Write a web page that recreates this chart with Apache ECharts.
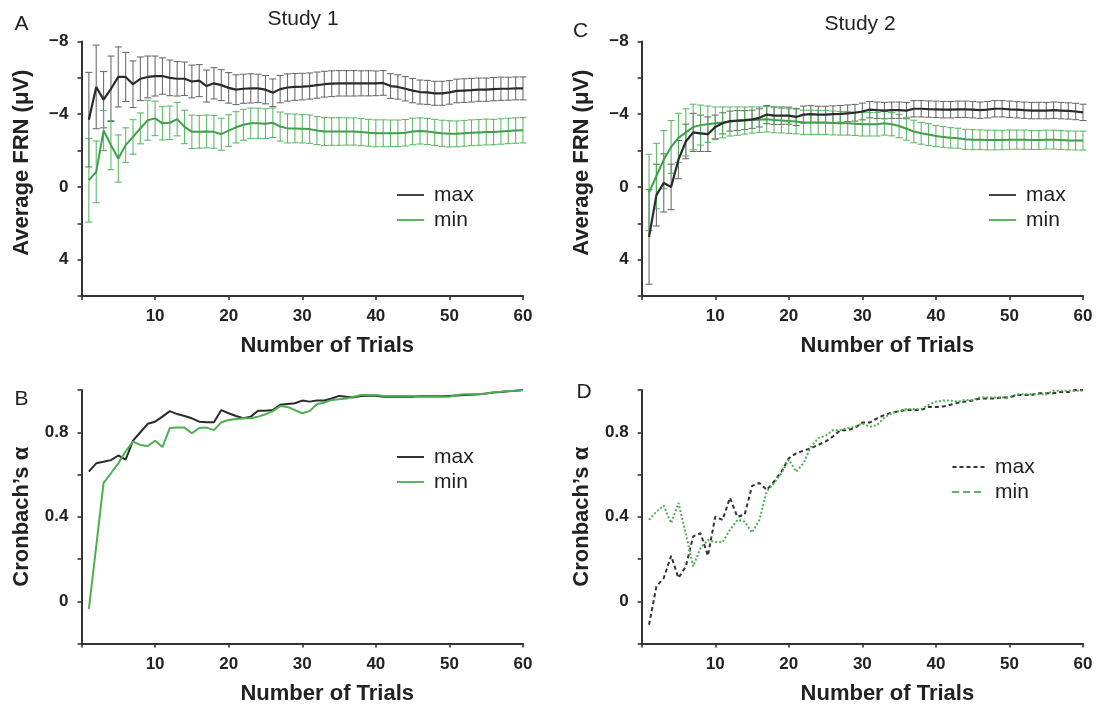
<!DOCTYPE html>
<html>
<head>
<meta charset="utf-8">
<script src="https://cdn.jsdelivr.net/npm/echarts@6/dist/echarts.min.js"></script>
<style>
html,body{margin:0;padding:0;background:#fff;}
#chart{width:1100px;height:706px;}
</style>
</head>
<body>
<div id="chart"></div>
<script>
// ---------- data ----------
const trials = [1,2,3,4,5,6,7,8,9,10,11,12,13,14,15,16,17,18,19,20,21,22,23,24,25,26,27,28,29,30,
  31,32,33,34,35,36,37,38,39,40,41,42,43,44,45,46,47,48,49,50,51,52,53,54,55,56,57,58,59,60];

// Study 1 - average FRN (µV)
const frnMax1 = [-3.7,-5.5,-4.8,-5.4,-6.05,-6.05,-5.65,-5.95,-6.05,-6.1,
  -6.1,-6.0,-5.95,-5.95,-5.8,-5.85,-5.55,-5.7,-5.6,-5.45,
  -5.35,-5.4,-5.42,-5.42,-5.35,-5.18,-5.38,-5.47,-5.5,-5.52,
  -5.55,-5.6,-5.65,-5.68,-5.7,-5.7,-5.7,-5.7,-5.7,-5.7,
  -5.72,-5.55,-5.5,-5.4,-5.3,-5.22,-5.2,-5.15,-5.15,-5.2,
  -5.28,-5.3,-5.32,-5.35,-5.35,-5.38,-5.4,-5.4,-5.42,-5.42];
const frnMaxErr1 = [2.6,2.3,1.55,1.8,1.65,1.35,1.28,1.2,1.15,1.1,
  1.0,0.98,0.95,0.92,0.9,0.88,0.88,0.86,0.85,0.84,
  0.82,0.8,0.8,0.78,0.78,0.76,0.75,0.75,0.74,0.73,
  0.72,0.72,0.71,0.71,0.7,0.7,0.7,0.69,0.69,0.68,
  0.68,0.68,0.67,0.67,0.67,0.66,0.66,0.66,0.66,0.65,
  0.65,0.65,0.65,0.64,0.64,0.64,0.64,0.63,0.63,0.63];
const frnMin1 = [-0.37,-0.83,-3.1,-2.3,-1.56,-2.3,-2.75,-3.22,-3.67,-3.77,
  -3.5,-3.53,-3.73,-3.3,-3.03,-3.03,-3.05,-3.03,-2.9,-3.1,
  -3.28,-3.42,-3.5,-3.5,-3.48,-3.53,-3.32,-3.22,-3.22,-3.2,
  -3.18,-3.1,-3.05,-3.05,-3.05,-3.05,-3.05,-3.02,-2.98,-2.95,
  -2.95,-2.95,-2.95,-2.98,-3.05,-3.08,-3.05,-3.0,-2.95,-2.92,
  -2.92,-2.95,-2.98,-3.0,-3.02,-3.02,-3.05,-3.08,-3.1,-3.12];
const frnMinErr1 = [2.3,1.7,1.1,1.35,1.3,0.95,0.95,0.85,1.1,0.95,
  0.92,0.92,0.92,0.92,0.92,0.9,0.9,0.9,0.88,0.87,
  0.86,0.85,0.84,0.83,0.82,0.81,0.8,0.8,0.79,0.78,
  0.78,0.77,0.77,0.76,0.76,0.75,0.75,0.75,0.74,0.74,
  0.74,0.73,0.73,0.73,0.73,0.72,0.72,0.72,0.72,0.72,
  0.71,0.71,0.71,0.71,0.71,0.7,0.7,0.7,0.7,0.7];

// Study 2 - average FRN (µV)
const frnMax2 = [2.75,0.45,-0.22,0.0,-1.5,-2.5,-3.0,-2.95,-2.9,-3.3,
  -3.5,-3.62,-3.65,-3.68,-3.72,-3.8,-3.98,-3.92,-3.92,-3.92,
  -3.85,-3.98,-4.0,-3.98,-3.98,-4.0,-4.02,-4.05,-4.08,-4.15,
  -4.25,-4.22,-4.2,-4.22,-4.22,-4.2,-4.3,-4.3,-4.28,-4.27,
  -4.25,-4.25,-4.27,-4.27,-4.25,-4.22,-4.25,-4.3,-4.3,-4.27,
  -4.25,-4.22,-4.2,-4.2,-4.2,-4.22,-4.2,-4.18,-4.15,-4.1];
const frnMaxErr2 = [2.6,1.7,1.6,1.25,1.05,0.95,1.05,1.0,0.95,0.65,
  0.58,0.55,0.55,0.52,0.5,0.5,0.5,0.48,0.48,0.47,
  0.47,0.47,0.47,0.46,0.46,0.46,0.46,0.46,0.46,0.46,
  0.45,0.45,0.45,0.45,0.45,0.45,0.45,0.45,0.45,0.45,
  0.45,0.45,0.45,0.45,0.45,0.45,0.45,0.45,0.45,0.45,
  0.45,0.45,0.45,0.45,0.45,0.45,0.45,0.45,0.45,0.45];
const frnMin2 = [0.3,-0.6,-1.5,-2.2,-2.7,-3.0,-3.3,-3.4,-3.45,-3.5,
  -3.55,-3.6,-3.62,-3.65,-3.68,-3.7,-3.72,-3.68,-3.65,-3.62,
  -3.6,-3.55,-3.55,-3.55,-3.55,-3.52,-3.5,-3.5,-3.48,-3.45,
  -3.45,-3.45,-3.5,-3.45,-3.35,-3.2,-3.05,-2.95,-2.88,-2.8,
  -2.75,-2.7,-2.68,-2.62,-2.6,-2.6,-2.58,-2.58,-2.58,-2.6,
  -2.6,-2.6,-2.58,-2.58,-2.6,-2.6,-2.58,-2.56,-2.55,-2.55];
const frnMinErr2 = [2.1,1.8,1.6,1.45,1.35,1.3,1.25,1.1,1.0,0.9,
  0.85,0.8,0.78,0.75,0.72,0.7,0.7,0.7,0.68,0.68,
  0.68,0.67,0.67,0.66,0.66,0.66,0.65,0.65,0.65,0.65,
  0.65,0.65,0.65,0.64,0.64,0.63,0.62,0.6,0.6,0.58,
  0.57,0.56,0.55,0.55,0.55,0.54,0.54,0.54,0.53,0.53,
  0.53,0.53,0.52,0.52,0.52,0.52,0.52,0.52,0.52,0.52];

// Study 1 - Cronbach's alpha
const alphaMax1 = [0.614,0.653,0.66,0.668,0.69,0.67,0.76,0.8,0.84,0.85,
  0.874,0.9,0.886,0.877,0.866,0.85,0.847,0.847,0.905,0.89,
  0.877,0.866,0.874,0.902,0.902,0.905,0.93,0.934,0.937,0.95,
  0.945,0.95,0.95,0.96,0.972,0.968,0.965,0.972,0.973,0.973,
  0.968,0.968,0.968,0.968,0.968,0.97,0.97,0.97,0.97,0.972,
  0.974,0.976,0.978,0.98,0.984,0.988,0.99,0.994,0.997,1.0];
const alphaMin1 = [-0.037,0.26,0.56,0.606,0.653,0.71,0.756,0.74,0.735,0.76,
  0.73,0.82,0.822,0.822,0.795,0.82,0.822,0.81,0.847,0.858,
  0.863,0.866,0.866,0.874,0.885,0.9,0.924,0.92,0.905,0.89,
  0.9,0.934,0.94,0.953,0.956,0.96,0.968,0.976,0.976,0.976,
  0.972,0.972,0.972,0.972,0.972,0.968,0.968,0.968,0.968,0.968,
  0.976,0.98,0.98,0.98,0.982,0.99,0.992,0.995,0.997,1.0];

// Study 2 - Cronbach's alpha
const alphaMax2 = [-0.111,0.07,0.11,0.215,0.11,0.165,0.307,0.322,0.215,0.4,
  0.385,0.49,0.4,0.41,0.546,0.56,0.527,0.567,0.614,0.677,
  0.7,0.713,0.724,0.74,0.756,0.78,0.81,0.81,0.82,0.846,
  0.846,0.866,0.882,0.893,0.9,0.905,0.905,0.905,0.92,0.92,
  0.922,0.93,0.94,0.945,0.95,0.96,0.96,0.96,0.965,0.965,
  0.976,0.976,0.976,0.985,0.985,0.985,0.99,0.99,1.0,1.0];
const alphaMin2 = [0.385,0.425,0.452,0.37,0.465,0.32,0.165,0.252,0.29,0.28,
  0.28,0.338,0.385,0.377,0.325,0.385,0.52,0.56,0.606,0.67,
  0.614,0.653,0.732,0.772,0.783,0.81,0.81,0.82,0.826,0.842,
  0.826,0.834,0.87,0.89,0.9,0.91,0.91,0.91,0.93,0.945,
  0.95,0.95,0.945,0.953,0.953,0.965,0.965,0.965,0.965,0.965,
  0.98,0.98,0.98,0.98,0.98,0.997,0.997,0.997,0.997,0.997];

const frnTickLabels = {'-8':'\u22128','-4':'\u22124','0':'0','4':'4'};
const alphaTickLabels = ['0','0.4','0.8'];

// ---------- styling ----------
const FONT = '"Liberation Sans", Arial, sans-serif';
const C_BLACK = '#2b2b2b', C_BLACK_ERR = '#5e5e5e';
const C_GREEN = '#3f9f4a', C_GREEN_ERR = '#4fb35b', C_GREEN_LEG = '#5cb85f';

const ICON_SOLID = 'path://M0,0h27v2h-27z';
const ICON_DASH_SHORT = 'path://M0,0h4v2h-4z M7,0h4v2h-4z M14,0h4v2h-4z M21,0h4v2h-4z M28,0h4v2h-4z';
const ICON_DASH_LONG = 'path://M0,0h7v2h-7z M11,0h7v2h-7z M22,0h7v2h-7z M33,0h0.01v2h-0.01z';

const pair = (ys) => trials.map((t, i) => [t, ys[i]]);
const errData = (ys, es) => trials.map((t, i) => [t, ys[i] - es[i], ys[i] + es[i]]);

function errRender(color, capW) {
  return function (params, api) {
    const x = api.value(0);
    const lo = api.coord([x, api.value(1)]);
    const hi = api.coord([x, api.value(2)]);
    const st = { stroke: color, lineWidth: 1.1, opacity: 0.9 };
    return { type: 'group', children: [
      { type: 'line', shape: { x1: lo[0], y1: lo[1], x2: hi[0], y2: hi[1] }, style: st },
      { type: 'line', shape: { x1: lo[0] - capW, y1: lo[1], x2: lo[0] + capW, y2: lo[1] }, style: st },
      { type: 'line', shape: { x1: hi[0] - capW, y1: hi[1], x2: hi[0] + capW, y2: hi[1] }, style: st }
    ]};
  };
}

const grids = [
  { left: 81.5, top: 41.5, width: 441.5, height: 254.5 },  // A
  { left: 81.5, top: 390, width: 441.5, height: 253.5 },   // B
  { left: 641.7, top: 41.5, width: 441.3, height: 254.5 }, // C
  { left: 641.7, top: 390, width: 441.3, height: 253.5 }   // D
];

const axisLineStyle = { show: true, onZero: false, lineStyle: { color: '#333', width: 2 } };
const tickStyle = { show: true, length: 4, lineStyle: { color: '#333', width: 1.6 } };
const labelFont = { fontFamily: FONT, fontSize: 17, fontWeight: 'bold', color: '#222' };
const nameFont = { fontFamily: FONT, fontSize: 22, fontWeight: 'bold', color: '#222' };

function xAxisFor(gi) {
  return {
    type: 'value', gridIndex: gi, min: 0, max: 60, interval: 10,
    axisLine: axisLineStyle, axisTick: tickStyle, splitLine: { show: false },
    axisLabel: Object.assign({ margin: 12, formatter: v => (v === 0 ? '' : String(v)) }, labelFont),
    name: 'Number of Trials', nameLocation: 'middle', nameGap: 39,
    nameTextStyle: Object.assign({ padding: [0, 0, 0, 50] }, nameFont)
  };
}
function frnAxis(gi) {
  return {
    type: 'value', gridIndex: gi, min: -8, max: 6, interval: 2, inverse: true,
    axisLine: axisLineStyle, axisTick: tickStyle, splitLine: { show: false },
    axisLabel: Object.assign({ margin: 13, formatter: v => frnTickLabels[String(v)] || '' }, labelFont),
    name: 'Average FRN (\u03bcV)', nameLocation: 'middle', nameGap: 49, nameRotate: 90,
    nameTextStyle: Object.assign({ padding: [0, 0, 0, 12] }, nameFont)
  };
}
function alphaAxis(gi) {
  return {
    type: 'value', gridIndex: gi, min: -0.2, max: 1.0, interval: 0.2,
    axisLine: axisLineStyle, axisTick: tickStyle, splitLine: { show: false },
    axisLabel: Object.assign({ margin: 13, formatter: v => {
      const r = (Math.round(v * 10) / 10).toString();
      return alphaTickLabels.indexOf(r) >= 0 ? r : '';
    } }, labelFont),
    name: 'Cronbach\u2019s \u03b1', nameLocation: 'middle', nameGap: 49, nameRotate: 90,
    nameTextStyle: nameFont
  };
}

function lineSeries(name, gi, ys, color, width, type) {
  return {
    type: 'line', name: name, xAxisIndex: gi, yAxisIndex: gi, data: pair(ys),
    symbol: 'none', showSymbol: false, z: 5,
    lineStyle: { color: color, width: width, type: type || 'solid' },
    itemStyle: { color: color }
  };
}
function errSeries(name, gi, ys, es, color) {
  return {
    type: 'custom', name: name, xAxisIndex: gi, yAxisIndex: gi,
    data: errData(ys, es), encode: { x: 0, y: [1, 2] },
    renderItem: errRender(color, 3.5), z: 2, silent: true
  };
}

function legendFor(items, left, top, width) {
  return {
    data: items.map(it => ({ name: it[0], icon: it[2], itemStyle: { color: it[1], borderWidth: 0 } })),
    orient: 'vertical', left: left, top: top, selectedMode: false,
    itemWidth: width || 27, itemHeight: 2, itemGap: 3, padding: 0,
    formatter: n => n.split('-')[1],
    textStyle: { fontFamily: FONT, fontSize: 21, color: '#222', lineHeight: 22, padding: [0, 0, 0, 5] }
  };
}

const textG = (txt, x, y, size, weight) => ({
  type: 'text', x: x, y: y,
  style: { text: txt, fontFamily: FONT, fontSize: size, fontWeight: weight || 'normal',
    fill: '#222', textAlign: 'center', textVerticalAlign: 'middle' }
});

const option = {
  animation: false,
  backgroundColor: '#fff',
  grid: grids,
  xAxis: [xAxisFor(0), xAxisFor(1), xAxisFor(2), xAxisFor(3)],
  yAxis: [frnAxis(0), alphaAxis(1), frnAxis(2), alphaAxis(3)],
  legend: [
    legendFor([['A-max', '#444', ICON_SOLID], ['A-min', C_GREEN_LEG, ICON_SOLID]], 397, 184),
    legendFor([['B-max', '#333', ICON_SOLID], ['B-min', C_GREEN_LEG, ICON_SOLID]], 397, 446),
    legendFor([['C-max', '#444', ICON_SOLID], ['C-min', C_GREEN_LEG, ICON_SOLID]], 989, 184),
    legendFor([['D-max', '#333', ICON_DASH_SHORT], ['D-min', C_GREEN_LEG, ICON_DASH_LONG]], 952, 456, 33)
  ],
  graphic: [
    textG('A', 21.5, 24, 21), textG('B', 21.5, 399, 21),
    textG('C', 580.5, 31, 21), textG('D', 584, 392.5, 21),
    textG('Study 1', 303, 19, 21), textG('Study 2', 860, 24, 21)
  ],
  series: [
    errSeries('errA-max', 0, frnMax1, frnMaxErr1, C_BLACK_ERR),
    errSeries('errA-min', 0, frnMin1, frnMinErr1, C_GREEN_ERR),
    lineSeries('A-min', 0, frnMin1, C_GREEN, 2),
    lineSeries('A-max', 0, frnMax1, C_BLACK, 2.2),

    lineSeries('B-max', 1, alphaMax1, C_BLACK, 2),
    lineSeries('B-min', 1, alphaMin1, '#4caf50', 2),

    errSeries('errC-max', 2, frnMax2, frnMaxErr2, C_BLACK_ERR),
    errSeries('errC-min', 2, frnMin2, frnMinErr2, C_GREEN_ERR),
    lineSeries('C-min', 2, frnMin2, C_GREEN, 2),
    lineSeries('C-max', 2, frnMax2, C_BLACK, 2.2),

    lineSeries('D-max', 3, alphaMax2, '#333', 2, [4, 3]),
    lineSeries('D-min', 3, alphaMin2, '#4caf50', 2, [2, 2])
  ]
};

const chart = echarts.init(document.getElementById('chart'), null, { renderer: 'canvas' });
chart.setOption(option);
</script>
</body>
</html>
